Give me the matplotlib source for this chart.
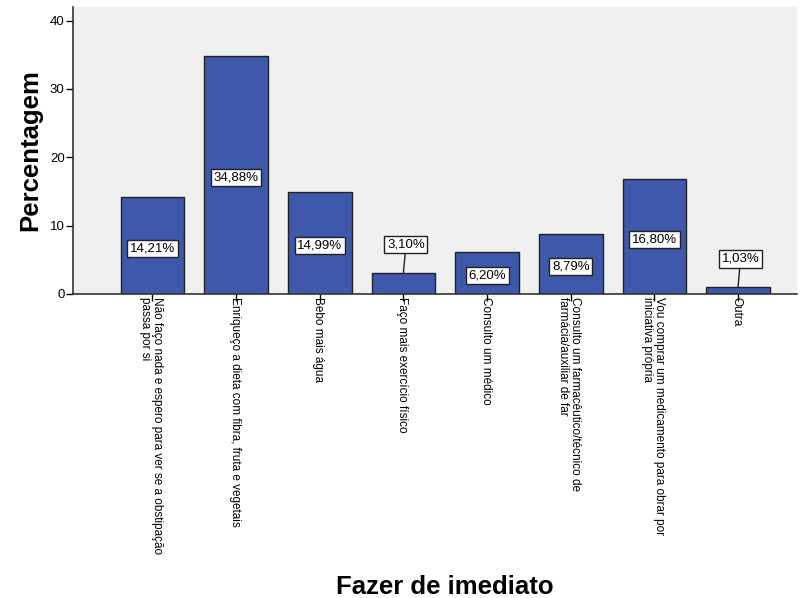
import matplotlib.pyplot as plt
import numpy as np

plt.rcParams['font.family'] = ['Liberation Sans', 'DejaVu Sans']

categories = [
    "Não faço nada e espero para ver se a obstipação\npassa por si",
    "Enriqueço a dieta com fibra, fruta e vegetais",
    "Bebo mais água",
    "Faço mais exercício físico",
    "Consulto um médico",
    "Consulto um farmacêutico/técnico de\nfarmácia/auxiliar de far",
    "Vou comprar um medicamento para obrar por\niniciativa própria",
    "Outra",
]
values = [14.21, 34.88, 14.99, 3.10, 6.20, 8.79, 16.80, 1.03]
value_labels = ["14,21%", "34,88%", "14,99%", "3,10%", "6,20%", "8,79%", "16,80%", "1,03%"]
yticks = [0, 10, 20, 30, 40]

fig = plt.figure(figsize=(8.04, 5.98), dpi=100)
ax = fig.add_axes([0.0908, 0.5084, 0.9, 0.48])
ax.set_facecolor('#f0f0f0')

x = np.arange(len(values))
ax.bar(x, values, width=0.76, color='#3e58ac', edgecolor='#222222', linewidth=1.0, zorder=2)

box = dict(boxstyle='square,pad=0.2', facecolor='white', edgecolor='#222222', linewidth=1.0)
for xi, v, lab in zip(x, values, value_labels):
    if v < 5:
        ax.annotate(lab, xy=(xi, v), xytext=(xi + 0.03, v + 4.1), ha='center', va='center',
                    fontsize=9.5, bbox=box, zorder=4,
                    arrowprops=dict(arrowstyle='-', color='#222222', lw=1.0, shrinkA=0, shrinkB=0))
    else:
        ax.text(xi, v / 2 - 0.4, lab, ha='center', va='center', fontsize=9.5, bbox=box, zorder=4)

ax.set_xlim(-0.95, 7.7)
ax.set_ylim(0, 42)
ax.set_yticks(yticks)
ax.set_xticks(x)
ax.set_xticklabels(categories, rotation=270, rotation_mode='anchor', ha='left', va='center_baseline',
                   fontsize=8.5, linespacing=1.0)
ax.tick_params(axis='y', direction='out', length=5, width=1, labelsize=9.5, pad=1)
ax.tick_params(axis='x', direction='out', length=5, width=1, pad=-2.5)
for s in ['top', 'right']:
    ax.spines[s].set_visible(False)
for s in ['left', 'bottom']:
    ax.spines[s].set_color('#333333')
    ax.spines[s].set_linewidth(1.2)

fig.text(30 / 804, 1 - 150 / 598, 'Percentagem', rotation=90, ha='center', va='center',
         fontsize=18.5, fontweight='bold')
fig.text(445 / 804, 1 - 594 / 598, 'Fazer de imediato', ha='center', va='baseline',
         fontsize=18.5, fontweight='bold')

fig.savefig('out.png', dpi=100)
